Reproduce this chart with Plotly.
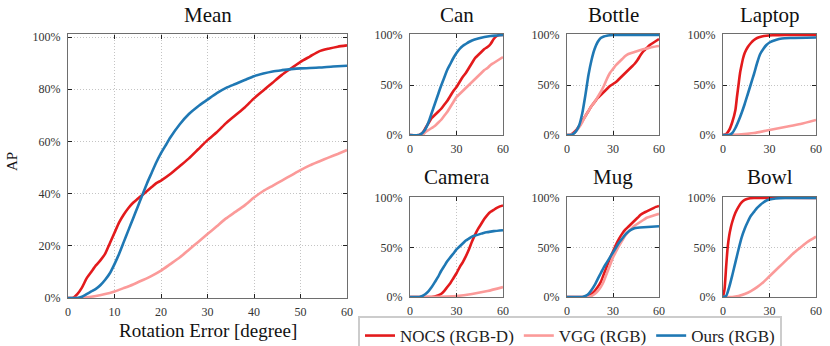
import plotly.graph_objects as go

W, H = 830, 346
RED = "#e31a1c"
PINK = "#fb9a99"
BLUE = "#1f78b4"
FONT = "Liberation Serif"

# ---------------- data (rotation error deg, AP %) ----------------
mean_nocs_x = [0, 1, 2, 3, 4, 5, 6, 7, 8, 9, 10, 11, 12, 13, 14, 15, 16, 17, 18, 19, 20, 22, 24, 26, 28, 30, 32, 34, 36, 38, 40, 42, 44, 46, 48, 50, 52, 54, 56, 58, 60]
mean_nocs_y = [0, 0, 1.5, 4, 7.5, 10, 12.5, 14.5, 17, 21, 25, 29, 32, 34.5, 36.5, 38, 39.5, 41, 42.5, 44, 45, 47.5, 50.5, 53.5, 57, 60.5, 63.5, 67, 70, 73, 76.5, 79.5, 82.5, 85.5, 88, 90.5, 92.5, 94.5, 95.5, 96.3, 96.8]
mean_vgg_x = [0, 2, 4, 6, 8, 10, 12, 14, 16, 18, 20, 22, 24, 26, 28, 30, 32, 34, 36, 38, 40, 42, 44, 46, 48, 50, 52, 54, 56, 58, 60]
mean_vgg_y = [0, 0, 0.3, 0.8, 1.5, 2.5, 3.8, 5.2, 6.8, 8.5, 10.5, 13, 15.5, 18.5, 21.5, 24.5, 27.5, 30.5, 33, 35.5, 38.5, 41, 43, 45, 47, 49, 50.8, 52.3, 53.8, 55.2, 56.7]
mean_ours_x = [0, 2, 3, 4, 5, 6, 7, 8, 9, 10, 11, 12, 13, 14, 15, 16, 17, 18, 19, 20, 21, 22, 24, 26, 28, 30, 32, 34, 36, 38, 40, 42, 44, 46, 48, 50, 54, 57, 60]
mean_ours_y = [0, 0, 0.5, 1.5, 2.5, 3.5, 5, 7, 9.5, 13, 17, 21.5, 26, 30.5, 35, 39.5, 44, 48, 52, 55.5, 58.5, 61.5, 66.5, 70.5, 73.5, 76, 78.5, 80.5, 82, 83.5, 85, 86, 86.8, 87.3, 87.7, 88, 88.3, 88.7, 89]

can_nocs_x = [0, 6, 8, 10, 12, 14, 16, 18, 20, 22, 24, 26, 28, 30, 32, 34, 36, 38, 40, 42, 44, 46, 48, 50, 52, 54, 56, 58, 60]
can_nocs_y = [0, 0, 2, 7, 12, 17, 20, 23, 26, 30, 34, 39, 44, 48, 53, 58, 62, 67, 72, 77, 80, 83, 86, 88, 91, 96, 99, 100, 100]
can_vgg_x = [0, 8, 10, 12, 14, 16, 18, 20, 22, 24, 26, 28, 30, 32, 34, 36, 38, 40, 42, 44, 46, 48, 50, 52, 54, 56, 58, 60]
can_vgg_y = [0, 0, 3, 5, 7, 9, 12, 15, 19, 23, 28, 33, 38, 41, 44, 47, 50, 53, 56, 59, 62, 65, 67, 70, 72, 74, 76, 78]
can_ours_x = [0, 6, 8, 10, 12, 14, 16, 18, 20, 22, 24, 26, 28, 30, 32, 34, 36, 38, 40, 44, 48, 52, 56, 60]
can_ours_y = [0, 0, 2, 6, 13, 22, 31, 40, 49, 57, 65, 71, 77, 82, 86, 89, 91, 93, 94.5, 96.5, 98, 99, 99.5, 100]

bottle_nocs_x = [0, 2, 4, 6, 8, 10, 12, 14, 16, 18, 20, 22, 24, 26, 28, 30, 32, 34, 36, 38, 40, 42, 44, 46, 48, 50, 52, 54, 56, 58, 60]
bottle_nocs_y = [0, 0, 2, 5, 9, 14, 19, 24, 29, 33, 37, 40, 43, 46, 49, 51, 53, 56, 59, 62, 65, 68, 71, 75, 80, 84, 87, 90, 92, 94, 96]
bottle_vgg_x = [0, 4, 6, 8, 10, 12, 14, 16, 18, 20, 22, 24, 26, 28, 30, 32, 34, 36, 38, 40, 44, 48, 52, 56, 60]
bottle_vgg_y = [0, 1, 4, 8, 13, 19, 24, 29, 33, 38, 43, 49, 56, 62, 66, 70, 73, 76, 79, 81, 83, 85, 86.5, 88, 89]
bottle_ours_x = [0, 2, 4, 6, 8, 10, 12, 14, 16, 18, 20, 22, 24, 26, 28, 30, 60]
bottle_ours_y = [0, 0, 1, 4, 10, 22, 40, 60, 75, 86, 93, 97, 98.5, 99.3, 99.7, 100, 100]

laptop_nocs_x = [0, 2, 4, 6, 8, 9, 10, 11, 12, 13, 14, 16, 18, 20, 22, 25, 28, 32, 40, 60]
laptop_nocs_y = [0, 1, 5, 13, 25, 38, 50, 62, 70, 77, 82, 88, 92, 95, 97, 98.5, 99.3, 99.7, 100, 100]
laptop_vgg_x = [0, 10, 20, 30, 40, 50, 60]
laptop_vgg_y = [0, 0.5, 2, 5, 8, 11, 15]
laptop_ours_x = [0, 4, 6, 8, 10, 12, 14, 16, 18, 20, 22, 24, 26, 28, 30, 34, 38, 44, 60]
laptop_ours_y = [0, 0, 2, 7, 14, 22, 31, 41, 51, 61, 72, 81, 86, 90, 92.5, 95, 96.5, 97, 97.5]

camera_nocs_x = [0, 14, 16, 18, 20, 22, 24, 26, 28, 30, 32, 34, 36, 38, 40, 42, 44, 46, 48, 50, 52, 54, 56, 58, 60]
camera_nocs_y = [0, 0, 0.5, 1.5, 3, 6, 10, 14, 19, 24, 30, 35, 41, 48, 56, 63, 69, 74, 79, 83, 86, 88, 90, 91.5, 92.5]
camera_vgg_x = [0, 20, 30, 40, 50, 60]
camera_vgg_y = [0, 0.3, 1, 3, 6, 10]
camera_ours_x = [0, 6, 8, 10, 12, 14, 16, 18, 20, 22, 24, 26, 28, 30, 32, 34, 36, 38, 40, 42, 44, 46, 48, 50, 54, 60]
camera_ours_y = [0, 0, 1, 3, 6, 10, 15, 20, 26, 31, 36, 40, 44, 48, 51, 54, 57, 59, 61, 62, 63, 64, 65, 65.5, 66.5, 67.5]

mug_nocs_x = [0, 12, 14, 16, 18, 20, 22, 24, 26, 28, 30, 32, 34, 36, 38, 40, 42, 44, 46, 48, 50, 52, 54, 56, 58, 60]
mug_nocs_y = [0, 0, 1, 3, 6, 10, 15, 23, 31, 39, 46, 53, 59, 64, 68, 71, 74, 77, 80, 83, 85, 86.5, 88, 89.5, 91, 92]
mug_vgg_x = [0, 14, 16, 18, 20, 22, 24, 26, 28, 30, 32, 34, 36, 38, 40, 42, 44, 46, 48, 50, 52, 54, 56, 58, 60]
mug_vgg_y = [0, 0, 1, 3, 6, 10, 16, 24, 32, 40, 46, 52, 57, 62, 66, 69, 72, 74, 76, 78, 80, 81, 82, 83, 84]
mug_ours_x = [0, 10, 12, 14, 16, 18, 20, 22, 24, 26, 28, 30, 32, 34, 36, 38, 40, 42, 44, 46, 50, 55, 60]
mug_ours_y = [0, 0, 1, 3, 7, 12, 18, 24, 30, 35, 40, 45, 50, 55, 59, 63, 66, 68, 69.5, 70, 70.5, 71, 71.5]

bowl_nocs_x = [0, 1, 2, 3, 4, 5, 6, 8, 10, 12, 14, 16, 20, 60]
bowl_nocs_y = [0, 8, 30, 50, 62, 70, 76, 85, 91, 95.5, 98, 99.3, 100, 100]
bowl_vgg_x = [0, 6, 10, 14, 18, 22, 26, 30, 34, 38, 42, 46, 50, 54, 58, 60]
bowl_vgg_y = [0, 0, 1, 3, 6, 10, 15, 21, 27, 33, 39, 45, 50, 55, 59, 61]
bowl_ours_x = [0, 2, 4, 6, 8, 10, 12, 14, 16, 18, 20, 22, 24, 26, 28, 30, 34, 40, 60]
bowl_ours_y = [0, 1, 10, 22, 35, 48, 60, 69, 76, 82, 86, 90, 93, 95.5, 97.5, 98.5, 99.5, 100, 100]

titles = ["Mean", "Can", "Bottle", "Laptop", "Camera", "Mug", "Bowl"]
series_names = ["NOCS (RGB-D)", "VGG (RGB)", "Ours (RGB)"]
series_colors = [RED, PINK, BLUE]

panels = [
    (mean_nocs_x, mean_nocs_y, mean_vgg_x, mean_vgg_y, mean_ours_x, mean_ours_y),
    (can_nocs_x, can_nocs_y, can_vgg_x, can_vgg_y, can_ours_x, can_ours_y),
    (bottle_nocs_x, bottle_nocs_y, bottle_vgg_x, bottle_vgg_y, bottle_ours_x, bottle_ours_y),
    (laptop_nocs_x, laptop_nocs_y, laptop_vgg_x, laptop_vgg_y, laptop_ours_x, laptop_ours_y),
    (camera_nocs_x, camera_nocs_y, camera_vgg_x, camera_vgg_y, camera_ours_x, camera_ours_y),
    (mug_nocs_x, mug_nocs_y, mug_vgg_x, mug_vgg_y, mug_ours_x, mug_ours_y),
    (bowl_nocs_x, bowl_nocs_y, bowl_vgg_x, bowl_vgg_y, bowl_ours_x, bowl_ours_y),
]

# target pixel boxes: (left, right, top, bottom)
boxes = [
    (68, 347, 34.4, 298),
    (410, 503, 34, 135),
    (567, 659, 34, 135),
    (723, 816, 34, 135),
    (410, 503, 197, 297),
    (567, 659, 197, 297),
    (723, 816, 197, 297),
]


def fx(px):
    return px / W


def fy(py):
    return 1 - py / H


fig = go.Figure()
layout = {}
annotations = []
for i, (data, box, title) in enumerate(zip(panels, boxes, titles)):
    n = "" if i == 0 else str(i + 1)
    xa, ya = "x" + n, "y" + n
    l, r, t, b = box
    for k in range(3):
        xs = data[2 * k]
        ys = [v / 100 for v in data[2 * k + 1]]
        fig.add_trace(go.Scatter(
            x=xs, y=ys, mode="lines", name=series_names[k],
            line=dict(color=series_colors[k], width=2.6, shape="spline", smoothing=0.6),
            xaxis=xa, yaxis=ya, showlegend=(i == 0), legendrank=k + 1,
            cliponaxis=True,
        ))
    main = i == 0
    common = dict(
        showline=True, mirror="ticks", linecolor="#6e6e6e", linewidth=1.3,
        ticks="inside", ticklen=4, tickcolor="#222", tickwidth=1,
        showgrid=True, gridcolor="#c4c4c4", griddash="1px,2px", gridwidth=1,
        zeroline=False, automargin=False,
        tickfont=dict(family=FONT, size=12, color="#333"),
    )
    layout["xaxis" + n] = dict(
        common, domain=[fx(l), fx(r)], anchor=ya, range=[0, 60],
        tickvals=[0, 10, 20, 30, 40, 50, 60] if main else [0, 30, 60],
        ticklabelstandoff=2,
    )
    layout["yaxis" + n] = dict(
        common, domain=[fy(b), fy(t)], anchor=xa, range=[0, 1.01],
        tickvals=[0, 0.2, 0.4, 0.6, 0.8, 1.0] if main else [0, 0.5, 1.0],
        tickformat=".0%", ticklabelstandoff=4,
    )
    annotations.append(dict(
        text=title, x=fx((l + r) / 2), y=fy(15 if t < 100 else 177),
        xref="paper", yref="paper", xanchor="center", yanchor="middle",
        showarrow=False, font=dict(family=FONT, size=21, color="#111"),
    ))

annotations.append(dict(
    text="Rotation Error [degree]", x=fx(207.5), y=fy(330),
    xref="paper", yref="paper", xanchor="center", yanchor="middle",
    showarrow=False, font=dict(family=FONT, size=19, color="#111"),
))
annotations.append(dict(
    text="AP", x=fx(12), y=fy(162), textangle=-90,
    xref="paper", yref="paper", xanchor="center", yanchor="middle",
    showarrow=False, font=dict(family=FONT, size=15, color="#111"),
))

fig.update_layout(
    **layout,
    annotations=annotations,
    width=W, height=H,
    margin=dict(l=0, r=0, t=0, b=0, autoexpand=False),
    paper_bgcolor="white", plot_bgcolor="white",
    showlegend=True,
    legend=dict(
        orientation="h", x=fx(358), y=fy(316), xanchor="left", yanchor="top",
        font=dict(family=FONT, size=17, color="#222"),
        bordercolor="#cccccc", borderwidth=2, bgcolor="white",
        itemwidth=30, traceorder="normal", tracegroupgap=0,
    ),
)

fig.write_html("out.html", config={"displayModeBar": False},
               post_script="document.body.style.margin='0px';")
